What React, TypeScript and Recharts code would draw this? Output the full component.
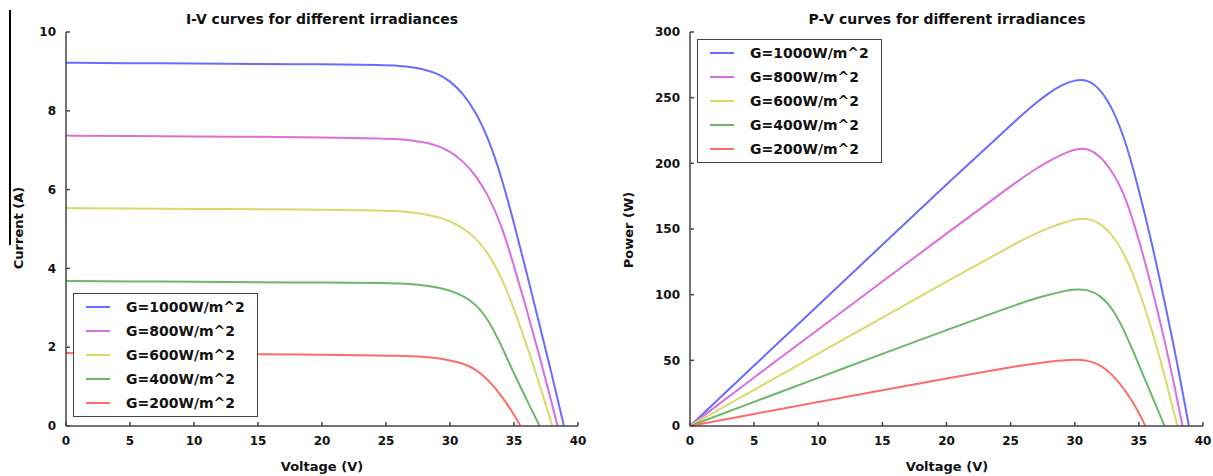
import React from "react";
import {
  LineChart,
  Line,
  XAxis,
  YAxis,
  Legend,
} from "recharts";

// irradiance series (legend order)
const irradiances = ["G=1000W/m^2", "G=800W/m^2", "G=600W/m^2", "G=400W/m^2", "G=200W/m^2"];
const colors = ["#6b6bff", "#dd6ddd", "#dada6a", "#6bb86b", "#ff6b6b"];

const voltageTicks = [0, 5, 10, 15, 20, 25, 30, 35, 40];
const currentTicks = [0, 2, 4, 6, 8, 10];
const powerTicks = [0, 50, 100, 150, 200, 250, 300];

// voltage points (V) for each curve, each ending at its own open-circuit voltage
const v1000 = [0, 5, 10, 15, 20, 25, 26, 27, 28, 29, 30, 31, 32, 33, 34, 35, 36, 37, 38, 38.9];
const v800 = [0, 5, 10, 15, 20, 25, 26, 27, 28, 29, 30, 31, 32, 33, 34, 35, 36, 37, 38, 38.4];
const v600 = [0, 5, 10, 15, 20, 25, 26, 27, 28, 29, 30, 31, 32, 33, 34, 35, 36, 37, 38];
const v400 = [0, 5, 10, 15, 20, 25, 26, 27, 28, 29, 30, 31, 32, 33, 34, 35, 36, 37];
const v200 = [0, 5, 10, 15, 20, 25, 26, 27, 28, 29, 30, 31, 32, 33, 34, 35, 35.5];

// current (A)
const i1000 = [9.22, 9.21, 9.2, 9.19, 9.18, 9.16, 9.14, 9.11, 9.05, 8.95, 8.76, 8.45, 7.98, 7.3, 6.35, 5.15, 3.88, 2.56, 1.25, 0];
const i800 = [7.37, 7.36, 7.35, 7.34, 7.32, 7.3, 7.28, 7.25, 7.2, 7.12, 6.97, 6.73, 6.37, 5.85, 5.12, 4.07, 2.95, 1.77, 0.52, 0];
const i600 = [5.53, 5.52, 5.51, 5.5, 5.49, 5.47, 5.45, 5.42, 5.38, 5.31, 5.2, 5.03, 4.78, 4.38, 3.8, 2.98, 2.05, 1.05, 0];
const i400 = [3.68, 3.67, 3.66, 3.65, 3.64, 3.63, 3.62, 3.6, 3.57, 3.52, 3.44, 3.31, 3.1, 2.7, 2.05, 1.33, 0.66, 0];
const i200 = [1.85, 1.84, 1.83, 1.82, 1.81, 1.79, 1.78, 1.77, 1.75, 1.72, 1.67, 1.59, 1.45, 1.17, 0.78, 0.3, 0];

// power (W)
const p1000 = [0, 46, 92, 138, 184, 229, 237.8, 246.2, 253.8, 259.6, 263.6, 263.8, 256.5, 241, 216, 180, 140, 95, 48, 0];
const p800 = [0, 37, 73.5, 110, 146.6, 182.5, 189.5, 196, 201.8, 206.8, 210.8, 211.8, 205.5, 193, 174, 142, 106, 66, 20, 0];
const p600 = [0, 27.6, 55, 82.5, 110, 136.8, 142, 146.8, 151, 154.5, 157.4, 158.3, 154.5, 145, 129, 104, 74, 39, 0];
const p400 = [0, 18.4, 36.6, 55, 73, 90.8, 94.2, 97.3, 100, 102.4, 104.2, 104, 99.5, 89, 70, 46.5, 23.5, 0];
const p200 = [0, 9.2, 18.3, 27.3, 36.2, 44.8, 46.3, 47.7, 48.9, 50, 50.8, 50, 46.8, 38.6, 26.5, 10.5, 0];

const volts = [v1000, v800, v600, v400, v200];
const currents = [i1000, i800, i600, i400, i200];
const powers = [p1000, p800, p600, p400, p200];

const ivSeries = irradiances.map((name, k) => ({
  name,
  color: colors[k],
  data: volts[k].map((v, j) => ({ v, y: currents[k][j] })),
}));
const pvSeries = irradiances.map((name, k) => ({
  name,
  color: colors[k],
  data: volts[k].map((v, j) => ({ v, y: powers[k][j] })),
}));

const FONT = "'DejaVu Sans', sans-serif";
const tickStyle = { fill: "#111", fontSize: 12, fontWeight: "bold", fontFamily: FONT };
const frame = "#444";

function BoxLegend(props: any) {
  const items = [...(props.payload || [])].sort(
    (a: any, b: any) => irradiances.indexOf(a.value) - irradiances.indexOf(b.value)
  );
  return (
    <div
      style={{
        border: `1.5px solid ${frame}`,
        background: "#fff",
        padding: "1px 12px 1px 0",
        fontFamily: FONT,
        fontSize: 14,
        fontWeight: "bold",
        color: "#111",
      }}
    >
      {items.map((it: any) => (
        <div key={it.value} style={{ display: "flex", alignItems: "center", height: 24 }}>
          <span style={{ display: "inline-block", width: 24, height: 2, background: it.color, marginLeft: 12, marginRight: 16 }} />
          <span>{it.value}</span>
        </div>
      ))}
    </div>
  );
}

function Panel({ series, yTicks, yMax, yWidth, marginRight, legendPos, width }: any) {
  return (
    <LineChart width={width} height={476} margin={{ top: 32, right: marginRight, bottom: 0, left: 0 }}>
      <XAxis
        dataKey="v"
        type="number"
        domain={[0, 40]}
        ticks={voltageTicks}
        height={50}
        allowDataOverflow
        stroke={frame}
        strokeWidth={1.5}
        tickSize={-4}
        tickMargin={14}
        tick={tickStyle}
      />
      <XAxis
        xAxisId="top"
        orientation="top"
        type="number"
        domain={[0, 40]}
        ticks={voltageTicks}
        height={0}
        stroke={frame}
        strokeWidth={1.5}
        tickSize={-4}
        tickFormatter={() => ""}
      />
      <YAxis
        type="number"
        domain={[0, yMax]}
        ticks={yTicks}
        width={yWidth}
        allowDataOverflow
        stroke={frame}
        strokeWidth={1.5}
        tickSize={-4}
        tickMargin={14}
        tick={tickStyle}
      />
      <YAxis
        yAxisId="right"
        orientation="right"
        type="number"
        domain={[0, yMax]}
        ticks={yTicks}
        width={0}
        stroke={frame}
        strokeWidth={1.5}
        tickSize={-4}
        tickFormatter={() => ""}
      />
      {series.map((s: any) => (
        <Line
          key={s.name}
          data={s.data}
          dataKey="y"
          name={s.name}
          type="basis"
          stroke={s.color}
          strokeWidth={2}
          dot={false}
          isAnimationActive={false}
        />
      ))}
      <Legend
        layout="horizontal"
        verticalAlign="middle"
        align="center"
        itemSorter={null}
        content={<BoxLegend />}
        wrapperStyle={{ left: legendPos[0], top: legendPos[1], width: "auto" }}
      />
    </LineChart>
  );
}

const textBase: React.CSSProperties = {
  position: "absolute",
  fontFamily: FONT,
  fontWeight: "bold",
  color: "#111",
  whiteSpace: "nowrap",
};

export default function App() {
  return (
    <div style={{ position: "absolute", left: 0, top: 0, width: 1213, height: 476, background: "#fff", overflow: "hidden" }}>
      <div style={{ position: "absolute", left: 9, top: 10, width: 1.5, height: 235, background: "#000" }} />
      <div style={{ position: "absolute", left: 0, top: 0 }}>
        <Panel series={ivSeries} yTicks={currentTicks} yMax={10} yWidth={66} marginRight={22} legendPos={[73, 293]} width={600} />
      </div>
      <div style={{ position: "absolute", left: 600, top: 0 }}>
        <Panel series={pvSeries} yTicks={powerTicks} yMax={300} yWidth={90} marginRight={10} legendPos={[97, 39]} width={613} />
      </div>
      <div style={{ ...textBase, left: 322, top: 19, transform: "translate(-50%, -50%)", fontSize: 14 }}>
        I-V curves for different irradiances
      </div>
      <div style={{ ...textBase, left: 947, top: 19, transform: "translate(-50%, -50%)", fontSize: 14 }}>
        P-V curves for different irradiances
      </div>
      <div style={{ ...textBase, left: 322, top: 466, transform: "translate(-50%, -50%)", fontSize: 13 }}>Voltage (V)</div>
      <div style={{ ...textBase, left: 947, top: 466, transform: "translate(-50%, -50%)", fontSize: 13 }}>Voltage (V)</div>
      <div style={{ ...textBase, left: 18, top: 228, transform: "translate(-50%, -50%) rotate(-90deg)", fontSize: 13 }}>Current (A)</div>
      <div style={{ ...textBase, left: 628, top: 230, transform: "translate(-50%, -50%) rotate(-90deg)", fontSize: 13 }}>Power (W)</div>
    </div>
  );
}
